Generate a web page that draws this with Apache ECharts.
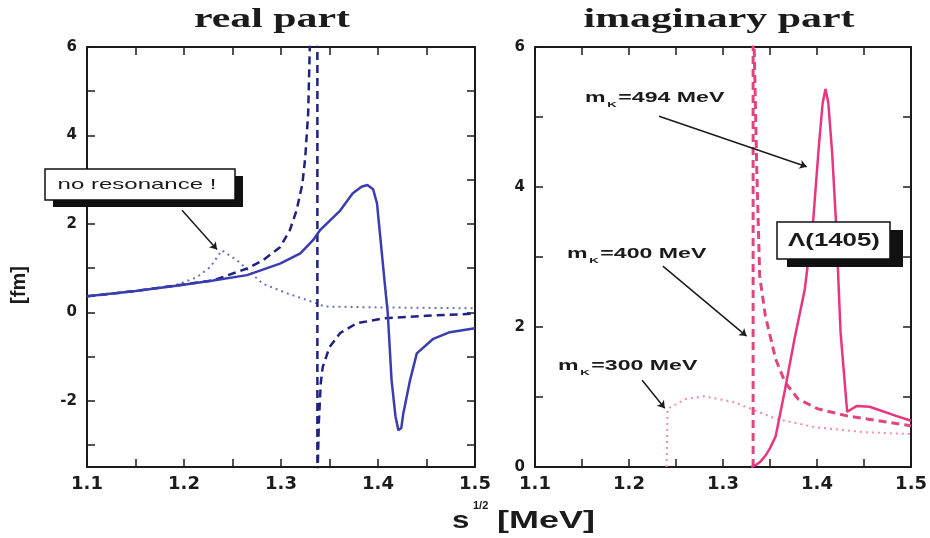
<!DOCTYPE html>
<html>
<head>
<meta charset="utf-8">
<script src="https://cdn.jsdelivr.net/npm/echarts@6/dist/echarts.min.js"></script>
<style>
  html, body { margin: 0; padding: 0; background: #ffffff; }
  #chart { width: 930px; height: 538px; }
</style>
</head>
<body>
<div id="chart"></div>
<script>
// Axis ticks and labels (sqrt(s) along x, amplitude in fm along y)
const xLabelValues = [1.1, 1.2, 1.3, 1.4, 1.5];
const xTickValues = [1.1, 1.15, 1.2, 1.25, 1.3, 1.35, 1.4, 1.45, 1.5];
const reYLabelValues = [-2, 0, 2, 4, 6];
const reYTickValues = [-3, -2, -1, 0, 1, 2, 3, 4, 5, 6];
const imYLabelValues = [0, 2, 4, 6];
const imYTickValues = [0, 1, 2, 3, 4, 5, 6];

// Real part, m_K = 494 MeV (solid)
const reSolidX = [1.10, 1.15, 1.196, 1.23, 1.265, 1.299, 1.32, 1.333, 1.340, 1.361, 1.374, 1.383, 1.389, 1.395, 1.399, 1.402, 1.405, 1.407, 1.410, 1.414, 1.418, 1.421, 1.424, 1.426, 1.433, 1.440, 1.457, 1.474, 1.50];
const reSolidY = [0.36, 0.48, 0.61, 0.72, 0.84, 1.10, 1.33, 1.63, 1.85, 2.30, 2.69, 2.84, 2.88, 2.78, 2.46, 1.78, 1.10, 0.65, 0.00, -1.54, -2.35, -2.67, -2.62, -2.30, -1.54, -0.93, -0.60, -0.45, -0.36];

// Real part, m_K = 400 MeV (dashed) — pole at threshold
const reDashX = [1.10, 1.15, 1.20, 1.23, 1.265, 1.281, 1.299, 1.309, 1.316, 1.322, 1.325, 1.328, 1.3305, 1.3375, 1.3375, 1.339, 1.341, 1.343, 1.350, 1.361, 1.378, 1.405, 1.45, 1.50];
const reDashY = [0.36, 0.48, 0.63, 0.72, 0.99, 1.17, 1.47, 1.85, 2.30, 2.90, 3.50, 4.50, 6.70, 6.70, -3.90, -2.50, -1.60, -1.24, -0.79, -0.47, -0.25, -0.14, -0.08, -0.03];

// Real part, m_K = 300 MeV (dotted)
const reDotX = [1.10, 1.15, 1.19, 1.213, 1.227, 1.239, 1.255, 1.281, 1.306, 1.333, 1.345, 1.40, 1.45, 1.50];
const reDotY = [0.36, 0.48, 0.60, 0.79, 1.02, 1.40, 1.17, 0.65, 0.43, 0.23, 0.13, 0.11, 0.10, 0.09];

// Imaginary part, m_K = 494 MeV (solid)
const imSolidX = [1.330, 1.335, 1.340, 1.345, 1.350, 1.356, 1.366, 1.376, 1.387, 1.392, 1.396, 1.402, 1.406, 1.409, 1.412, 1.416, 1.420, 1.425, 1.432, 1.442, 1.456, 1.484, 1.50];
const imSolidY = [0.00, 0.03, 0.08, 0.16, 0.27, 0.44, 1.11, 1.83, 2.54, 3.10, 3.54, 4.60, 5.20, 5.40, 5.20, 4.50, 3.54, 1.93, 0.79, 0.87, 0.86, 0.73, 0.66];

// Imaginary part, m_K = 400 MeV (dashed)
const imDashX = [1.332, 1.332, 1.334, 1.336, 1.339, 1.345, 1.356, 1.366, 1.380, 1.401, 1.432, 1.50];
const imDashY = [0.00, 6.70, 6.70, 4.20, 2.73, 2.16, 1.54, 1.21, 0.97, 0.83, 0.73, 0.59];

// Imaginary part, m_K = 300 MeV (dotted)
const imDotX = [1.240, 1.241, 1.260, 1.280, 1.311, 1.330, 1.356, 1.397, 1.448, 1.50];
const imDotY = [0.00, 0.83, 0.97, 1.01, 0.93, 0.83, 0.69, 0.57, 0.50, 0.47];

const pairs = (xs, ys) => xs.map((x, i) => [x, ys[i]]);

const INK = '#1b1b1b';
const BLUE = '#3a3db0', NAVY = '#1f2280', BLUE_LIGHT = '#6d70ba';
const PINK = '#e8357f', PINK_DASH = '#e2447f', PINK_LIGHT = '#f28bb0';

function tick(values) {
  return { show: true, inside: true, length: 8, customValues: values, lineStyle: { color: INK, width: 1.5, opacity: 1 } };
}
function axisLine() {
  return { show: true, onZero: false, lineStyle: { color: INK, width: 2 } };
}

function xAxes(gridIndex) {
  const mk = (position, labelled) => ({
    type: 'value', gridIndex, min: 1.1, max: 1.5, position,
    axisLine: axisLine(), axisTick: tick(xTickValues), splitLine: { show: false },
    axisLabel: labelled ? {
      show: true, customValues: xLabelValues, formatter: v => v.toFixed(1),
      fontFamily: 'DejaVu Sans', fontWeight: 'bold', fontSize: 18, color: INK, margin: 8
    } : { show: false }
  });
  return [mk('bottom', true), mk('top', false)];
}

function yAxes(gridIndex, min, max, labels, ticks) {
  const mk = (position, labelled) => ({
    type: 'value', gridIndex, min, max, position,
    axisLine: axisLine(), axisTick: tick(ticks), splitLine: { show: false },
    axisLabel: labelled ? {
      show: true, customValues: labels, formatter: v => String(v),
      fontFamily: 'DejaVu Sans', fontWeight: 'bold', fontSize: 15, color: INK, margin: 10
    } : { show: false }
  });
  return [mk('left', true), mk('right', false)];
}

function curve(name, xi, yi, data, color, width, type) {
  return {
    name, type: 'line', xAxisIndex: xi, yAxisIndex: yi, data,
    symbol: 'none', showSymbol: false, clip: true,
    lineStyle: { color, width, type }
  };
}

function arrow(from, to) {
  return [{ coord: from }, { coord: to }];
}

const arrowStyle = {
  silent: true, symbol: ['none', 'arrow'], symbolSize: 7,
  lineStyle: { color: INK, width: 1.5, type: 'solid' },
  label: { show: false }
};

const reSolid = curve('Re m_K=494', 0, 0, pairs(reSolidX, reSolidY), BLUE, 2.5, 'solid');
const reDash = curve('Re m_K=400', 0, 0, pairs(reDashX, reDashY), NAVY, 2.5, [8, 5]);
const reDot = curve('Re m_K=300', 0, 0, pairs(reDotX, reDotY), BLUE_LIGHT, 2, [2, 4]);
reDot.markLine = Object.assign({}, arrowStyle, { data: [arrow([1.198, 2.31], [1.234, 1.42])] });

const imSolid = curve('Im m_K=494', 2, 2, pairs(imSolidX, imSolidY), PINK, 2.5, 'solid');
imSolid.markLine = Object.assign({}, arrowStyle, {
  data: [
    arrow([1.232, 5.01], [1.389, 4.29]),
    arrow([1.236, 2.87], [1.325, 1.87]),
    arrow([1.214, 1.24], [1.238, 0.84])
  ]
});
const imDash = curve('Im m_K=400', 2, 2, pairs(imDashX, imDashY), PINK_DASH, 3, [8, 5]);
const imDot = curve('Im m_K=300', 2, 2, pairs(imDotX, imDotY), PINK_LIGHT, 2, [2, 4]);

function label(x, y, text, opts) {
  return Object.assign({
    type: 'text', x, y, z: 101,
    style: Object.assign({
      text, fill: INK,
      fontFamily: 'Liberation Sans', fontWeight: 'bold', fontSize: 14,
      align: 'left', textAlign: 'left', verticalAlign: 'middle', textVerticalAlign: 'middle'
    }, opts.style || {})
  }, opts.el || {});
}

function massLabel(x, y, mass) {
  return {
    type: 'text', x, y, z: 101, scaleX: 1.65,
    style: {
      text: '{a|m}{b|K}{a|=' + mass + ' MeV}',
      align: 'left', textAlign: 'left', verticalAlign: 'middle', textVerticalAlign: 'middle',
      rich: {
        a: { fontFamily: 'Liberation Sans', fontWeight: 'bold', fontSize: 14, color: INK, fill: INK, lineHeight: 18, verticalAlign: 'top' },
        b: { fontFamily: 'Liberation Sans', fontWeight: 'bold', fontSize: 8, color: INK, fill: INK, lineHeight: 4, verticalAlign: 'bottom', padding: [0, 1, 0, 1] }
      }
    }
  };
}

const graphics = [
  // panel titles
  label(272, 20, 'real part', { el: { scaleX: 1.55 }, style: { fontFamily: 'Liberation Serif', fontSize: 27, align: 'center', textAlign: 'center' } }),
  label(719, 20, 'imaginary part', { el: { scaleX: 1.55 }, style: { fontFamily: 'Liberation Serif', fontSize: 27, align: 'center', textAlign: 'center' } }),
  // axis names
  label(19, 285, '[fm]', { el: { rotation: Math.PI / 2 }, style: { fontSize: 20, align: 'center', textAlign: 'center' } }),
  label(452, 521, 's', { el: { scaleX: 1.3 }, style: { fontSize: 24 } }),
  label(473, 506, '1/2', { style: { fontSize: 11 } }),
  label(497, 521, '[MeV]', { el: { scaleX: 1.5 }, style: { fontSize: 24 } }),
  // "no resonance !" box
  { type: 'rect', z: 100, shape: { x: 53, y: 176, width: 190, height: 31 }, style: { fill: '#111111' } },
  { type: 'rect', z: 100, shape: { x: 45, y: 169, width: 190, height: 31 }, style: { fill: '#ffffff', stroke: '#111111', lineWidth: 1.5 } },
  label(137, 185, 'no resonance !', { el: { scaleX: 1.6 }, style: { fontWeight: 'normal', fontSize: 15, align: 'center', textAlign: 'center' } }),
  // Lambda(1405) box
  { type: 'rect', z: 100, shape: { x: 787, y: 230, width: 116, height: 37 }, style: { fill: '#111111' } },
  { type: 'rect', z: 100, shape: { x: 777, y: 222, width: 113, height: 37 }, style: { fill: '#ffffff', stroke: '#111111', lineWidth: 1.5 } },
  label(834, 241, 'Λ(1405)', { el: { scaleX: 1.36 }, style: { fontSize: 19, align: 'center', textAlign: 'center' } }),
  // kaon-mass annotations
  massLabel(585, 100, 494),
  massLabel(567, 256, 400),
  massLabel(558, 368, 300)
];

const option = {
  animation: false,
  backgroundColor: '#ffffff',
  grid: [
    { left: 87, top: 47, width: 388, height: 420, containLabel: false },
    { left: 535, top: 47, width: 387, height: 420, containLabel: false }
  ],
  xAxis: [].concat(xAxes(0), xAxes(1)),
  yAxis: [].concat(
    yAxes(0, -3.5, 6, reYLabelValues, reYTickValues),
    yAxes(1, 0, 6, imYLabelValues, imYTickValues)
  ),
  series: [reDot, reDash, reSolid, imDot, imDash, imSolid],
  graphic: graphics
};

const chart = echarts.init(document.getElementById('chart'), null, { renderer: 'canvas' });
chart.setOption(option);
</script>
</body>
</html>
